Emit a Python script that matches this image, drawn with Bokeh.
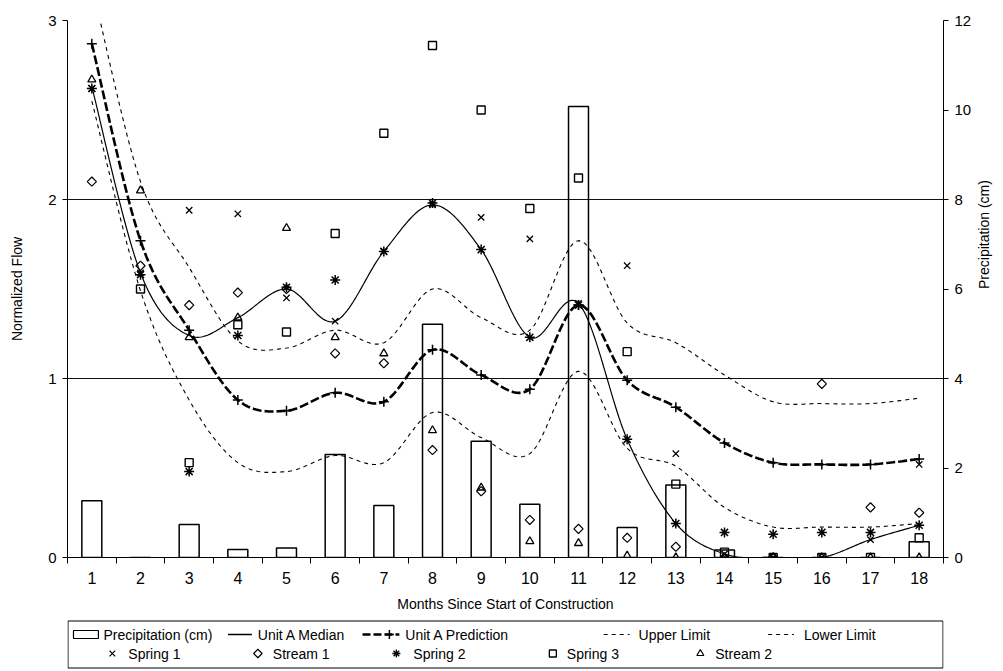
import math
import numpy as np
from bokeh.plotting import figure
from bokeh.models import Range1d, LinearAxis, FixedTicker
from bokeh.layouts import column
from bokeh.embed import file_html
from bokeh.resources import INLINE
from bokeh.core.properties import value

nan = float("nan")

months = list(range(1, 19))
month_labels = [str(m) for m in months]
precip = [1.27, 0.0, 0.74, 0.18, 0.21, 2.30, 1.16, 5.21, 2.60, 1.19, 10.08, 0.67, 1.62, 0.17, 0.0, 0.0, 0.0, 0.35]
median = [2.63, 1.59, 1.24, 1.34, 1.50, 1.32, 1.71, 1.97, 1.72, 1.23, 1.42, 0.66, 0.19, 0.02, 0.0, 0.0, 0.10, 0.18]
prediction = [2.87, 1.77, 1.27, 0.88, 0.82, 0.92, 0.87, 1.16, 1.02, 0.94, 1.41, 0.99, 0.84, 0.64, 0.53, 0.52, 0.52, 0.55]
upper = [3.20, 2.10, 1.62, 1.21, 1.17, 1.27, 1.20, 1.50, 1.34, 1.27, 1.77, 1.31, 1.20, 1.02, 0.87, 0.86, 0.86, 0.89]
lower = [2.55, 1.49, 0.88, 0.53, 0.48, 0.57, 0.53, 0.81, 0.67, 0.58, 1.04, 0.61, 0.51, 0.28, 0.17, 0.17, 0.17, 0.19]
spring1 = [2.62, 1.59, 1.94, 1.92, 1.45, 1.32, 1.71, 1.97, 1.90, 1.78, 1.42, 1.63, 0.58, 0.02, 0.0, 0.0, 0.10, 0.52]
stream1 = [2.10, 1.63, 1.41, 1.48, 1.50, 1.14, 1.085, 0.60, 0.37, 0.21, 0.16, 0.11, 0.06, 0.0, 0.0, 0.97, 0.28, 0.25]
spring2 = [2.62, 1.58, 0.48, 1.24, 1.51, 1.55, 1.71, 1.98, 1.72, 1.23, 1.41, 0.66, 0.19, 0.14, 0.13, 0.14, 0.14, 0.18]
spring3 = [nan, 1.50, 0.53, 1.30, 1.26, 1.81, 2.37, 2.86, 2.50, 1.95, 2.12, 1.15, 0.41, 0.03, 0.0, 0.0, 0.0, 0.11]
stream2 = [2.67, 2.05, 1.23, 1.34, 1.84, 1.23, 1.14, 0.71, 0.39, 0.09, 0.08, 0.01, 0.0, 0.0, 0.0, 0.0, 0.0, 0.0]

flow_ticks = [0, 1, 2, 3]
precip_ticks = [0, 2, 4, 6, 8, 10, 12]

FONT = "Liberation Sans"


def smooth(xs, ys, n=24):
    """Excel-style smoothed line: cubic Bezier through the points."""
    xs = np.asarray(xs, float)
    ys = np.asarray(ys, float)
    px = np.concatenate([[xs[0]], xs, [xs[-1]]])
    py = np.concatenate([[ys[0]], ys, [ys[-1]]])
    t = np.linspace(0, 1, n, endpoint=False)
    ox, oy = [], []
    for i in range(len(xs) - 1):
        p0x, p0y = px[i + 1], py[i + 1]
        p1x, p1y = px[i + 2], py[i + 2]
        c0x = p0x + (p1x - px[i]) / 6.0
        c0y = p0y + (p1y - py[i]) / 6.0
        c1x = p1x - (px[i + 3] - p0x) / 6.0
        c1y = p1y - (py[i + 3] - p0y) / 6.0
        a = (1 - t) ** 3
        b = 3 * (1 - t) ** 2 * t
        c = 3 * (1 - t) * t ** 2
        d = t ** 3
        ox.extend(a * p0x + b * c0x + c * c1x + d * p1x)
        oy.extend(a * p0y + b * c0y + c * c1y + d * p1y)
    ox.append(xs[-1])
    oy.append(ys[-1])
    return ox, oy


W = 1003
H = 618
FL, FW, FT, FH = 67, 879, 20, 537
FR = W - FL - FW
p = figure(width=W, height=H, x_range=Range1d(0.5, 18.5), y_range=Range1d(0, 3),
           output_backend="svg", toolbar_location=None,
           min_border_left=FL, min_border_right=FR,
           min_border_top=FT, min_border_bottom=H - FT - FH)
p.outline_line_color = None
p.background_fill_color = "white"
p.border_fill_color = "white"
p.xgrid.visible = False
p.ygrid.ticker = FixedTicker(ticks=flow_ticks)
p.ygrid.grid_line_color = "#111111"
p.ygrid.grid_line_width = 1

# x axis
xa = p.xaxis[0]
xa.ticker = FixedTicker(ticks=months, minor_ticks=[m + 0.5 for m in range(0, 19)])
xa.major_label_overrides = {m: l for m, l in zip(months, month_labels)}
xa.major_tick_out = 0
xa.major_tick_in = 0
xa.minor_tick_out = 6
xa.minor_tick_in = 0
xa.minor_tick_line_color = "black"
xa.axis_line_color = "black"
xa.major_label_standoff = 8
xa.major_label_text_font = FONT
xa.major_label_text_font_size = "16px"
xa.major_label_text_color = "black"
xa.axis_label = "Months Since Start of Construction"
xa.axis_label_text_font = FONT
xa.axis_label_text_font_size = "14px"
xa.axis_label_text_font_style = "normal"
xa.axis_label_text_color = "black"
xa.axis_label_standoff = 9

# left axis
ya = p.yaxis[0]
ya.ticker = FixedTicker(ticks=flow_ticks)
ya.minor_tick_line_color = None
ya.major_tick_out = 5
ya.major_tick_in = 0
ya.major_tick_line_color = "black"
ya.axis_line_color = "black"
ya.major_label_standoff = 6
ya.major_label_text_font = FONT
ya.major_label_text_font_size = "15px"
ya.major_label_text_color = "black"
ya.axis_label = "Normalized Flow"
ya.axis_label_text_font = FONT
ya.axis_label_text_font_size = "14px"
ya.axis_label_text_font_style = "normal"
ya.axis_label_text_color = "black"
ya.axis_label_standoff = 20

# right axis (precipitation)
p.extra_y_ranges = {"precip": Range1d(0, 12)}
ra = LinearAxis(y_range_name="precip", ticker=FixedTicker(ticks=precip_ticks))
ra.minor_tick_line_color = None
ra.major_tick_out = 5
ra.major_tick_in = 0
ra.major_tick_line_color = "black"
ra.axis_line_color = "black"
ra.major_label_standoff = 6
ra.major_label_text_font = FONT
ra.major_label_text_font_size = "15px"
ra.major_label_text_color = "black"
ra.axis_label = "Precipitation (cm)"
ra.axis_label_text_font = FONT
ra.axis_label_text_font_size = "14px"
ra.axis_label_text_font_style = "normal"
ra.axis_label_text_color = "black"
ra.axis_label_standoff = 10
ra.axis_label_orientation = math.pi / 2
p.add_layout(ra, "right")

# bars
p.vbar(x=months, top=precip, bottom=0, width=0.41, y_range_name="precip",
       fill_color=None, line_color="black", line_width=1.5)

# lines
ux, uy = smooth(months, upper)
p.line(ux, uy, line_color="black", line_width=1.1, line_dash="4 4")
lx, ly = smooth(months, lower)
p.line(lx, ly, line_color="black", line_width=1.1, line_dash="4 4")
mx, my = smooth(months, median)
p.line(mx, my, line_color="black", line_width=1.2)
px_, py_ = smooth(months, prediction)
p.line(px_, py_, line_color="black", line_width=2.6, line_dash="9 3")
p.scatter(months, prediction, marker="cross", size=10, line_color="black", line_width=1.5)

# site markers
p.scatter(months, spring1, marker="x", size=9, line_color="black", line_width=1.3)
p.scatter(months, stream1, marker="square", angle=math.pi / 4, size=6.5, line_color="black",
          fill_color=None, line_width=1.2)
p.scatter(months, spring2, marker="asterisk", size=10, line_color="black", line_width=1.5)
p.scatter(months, spring3, marker="square", size=8, line_color="black", fill_color=None, line_width=1.4)
p.scatter(months, stream2, marker="triangle", size=8, line_color="black", fill_color=None, line_width=1.3)

# ---------- legend (separate strip below, same side borders so x = page x) ----------
LH = 52
lg = figure(width=W, height=LH, x_range=Range1d(FL, FL + FW), y_range=Range1d(LH, 0),
            output_backend="svg", toolbar_location=None,
            x_axis_location=None, y_axis_location=None,
            min_border_left=FL, min_border_right=FR,
            min_border_top=0, min_border_bottom=0)
lg.grid.visible = False
lg.outline_line_color = None
lg.background_fill_color = "white"
lg.border_fill_color = "white"

lg.quad(left=[FL + 0.5], right=[FL + FW - 0.5], top=[2.5], bottom=[49.5],
        fill_color=None, line_color="black", line_width=1)

r1 = 16
r2 = 35
# row 1 icons
lg.quad(left=[73], right=[98], top=[r1 - 4], bottom=[r1 + 4], fill_color=None, line_color="black", line_width=1.2)
lg.line([228, 252], [r1, r1], line_color="black", line_width=1.5)
lg.line([363, 400], [r1, r1], line_color="black", line_width=2.5, line_dash="8 3")
lg.scatter([390], [r1], marker="cross", size=9, line_color="black", line_width=1.5)
lg.line([605, 631], [r1, r1], line_color="black", line_width=1, line_dash="4 4")
lg.line([770, 796], [r1, r1], line_color="black", line_width=1, line_dash="4 4")

row1_labels = ["Precipitation (cm)", "Unit A Median", "Unit A Prediction", "Upper Limit", "Lower Limit"]
row1_x = [103, 258, 406, 640, 806]
lg.text(x=row1_x, y=[r1] * 5, text=row1_labels, text_font=value(FONT), text_font_size="14px",
        text_baseline="middle", text_align="left", text_color="black")

# row 2 icons
lg.scatter([112], [r2], marker="x", size=8, line_color="black", line_width=1.2)
lg.scatter([258], [r2], marker="square", angle=math.pi / 4, size=6, line_color="black",
           fill_color=None, line_width=1.2)
lg.scatter([397], [r2], marker="asterisk", size=8, line_color="black", line_width=1.3)
lg.scatter([554], [r2], marker="square", size=7, line_color="black", fill_color=None, line_width=1.3)
lg.scatter([702], [r2], marker="triangle", size=7, line_color="black", fill_color=None, line_width=1.2)
row2_labels = ["Spring 1", "Stream 1", "Spring 2", "Spring 3", "Stream 2"]
row2_x = [128, 273, 414, 568, 717]
lg.text(x=row2_x, y=[r2] * 5, text=row2_labels, text_font=value(FONT), text_font_size="14px",
        text_baseline="middle", text_align="left", text_color="black")

layout = column(p, lg, spacing=0)
open("out.html", "w").write(file_html(layout, INLINE))
